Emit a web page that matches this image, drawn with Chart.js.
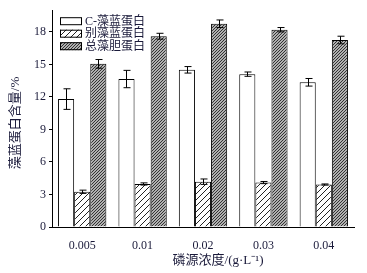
<!DOCTYPE html>
<html>
<head>
<meta charset="utf-8">
<script src="https://cdn.jsdelivr.net/npm/chart.js@4"></script>
<style>
  html, body { margin: 0; padding: 0; background: #fff; }
  #wrap { width: 367px; height: 273px; }
</style>
</head>
<body>
<div id="wrap"><canvas id="chart1" width="367" height="273"></canvas></div>
<script>
// Дані
const categories = ['0.005', '0.01', '0.02', '0.03', '0.04'];
const seriesNames = ['C-藻蓝蛋白', '别藻蓝蛋白', '总藻胆蛋白'];
const cpcValues = [11.8, 13.65, 14.5, 14.1, 13.35];
const cpcErrors = [0.95, 0.8, 0.3, 0.2, 0.35];
const apcValues = [3.25, 3.97, 4.18, 4.1, 3.92];
const apcErrors = [0.15, 0.1, 0.25, 0.1, 0.05];
const totalValues = [15.05, 17.6, 18.75, 18.2, 17.25];
const totalErrors = [0.4, 0.27, 0.35, 0.2, 0.35];
const yTicks = [0, 3, 6, 9, 12, 15, 18];
const xTitle = '磷源浓度/(g·L⁻¹)';
const yTitle = '藻蓝蛋白含量/%';

const FONT = '"Liberation Serif", "Times New Roman", "Noto Sans CJK SC", serif';
const TEXT = '#1a1a3a';

// Штрихування
function makeHatch(size, bg, fg, lw) {
  const c = document.createElement('canvas');
  c.width = size; c.height = size;
  const g = c.getContext('2d');
  g.fillStyle = bg;
  g.fillRect(0, 0, size, size);
  g.strokeStyle = fg;
  g.lineWidth = lw;
  g.beginPath();
  g.moveTo(-1, size + 1); g.lineTo(size + 1, -1);
  g.moveTo(-1, 1); g.lineTo(1, -1);
  g.moveTo(size - 1, size + 1); g.lineTo(size + 1, size - 1);
  g.stroke();
  return c;
}

const ctx = document.getElementById('chart1').getContext('2d');
const whiteFill = '#ffffff';
const lightHatch = ctx.createPattern(makeHatch(6, '#ffffff', '#222', 1), 'repeat');
const darkHatch = ctx.createPattern(makeHatch(3, '#b0b0b0', '#333', 1), 'repeat');
const fills = [whiteFill, lightHatch, darkHatch];
const errorSets = [cpcErrors, apcErrors, totalErrors];

// Планки похибок
const errorBars = {
  id: 'errorBars',
  afterDatasetsDraw(chart) {
    const g = chart.ctx;
    const y = chart.scales.y;
    g.save();
    g.strokeStyle = '#000';
    g.lineWidth = 1;
    chart.data.datasets.forEach((ds, i) => {
      const meta = chart.getDatasetMeta(i);
      meta.data.forEach((bar, j) => {
        const v = ds.data[j], e = errorSets[i][j];
        const x = Math.round(bar.x) + 0.5;
        const top = y.getPixelForValue(v + e);
        const bot = y.getPixelForValue(v - e);
        g.beginPath();
        g.moveTo(x, top); g.lineTo(x, bot);
        g.moveTo(x - 3, top); g.lineTo(x + 4, top);
        g.moveTo(x - 3, bot); g.lineTo(x + 4, bot);
        g.stroke();
      });
    });
    g.restore();
  }
};

// Легенда та підписи осей
const innerLegend = {
  id: 'innerLegend',
  afterDraw(chart) {
    const g = chart.ctx;
    const area = chart.chartArea;
    const left = area.left + 8;
    const top = area.top + 7;
    g.save();
    g.font = '12px ' + FONT;
    g.textBaseline = 'middle';
    seriesNames.forEach((name, i) => {
      const yy = top + i * 12.5;
      g.fillStyle = fills[i];
      g.fillRect(left, yy, 22, 8);
      g.strokeStyle = '#000';
      g.lineWidth = 1;
      g.strokeRect(left + 0.5, yy + 0.5, 21, 7);
      g.fillStyle = TEXT;
      g.fillText(name, left + 25, yy + 4.5);
    });

    // назва осі X
    g.font = '13px ' + FONT;
    g.textAlign = 'center';
    g.fillText(xTitle, 218, 261);

    // назва осі Y
    g.translate(16, 123);
    g.rotate(-Math.PI / 2);
    g.fillText(yTitle, 0, 0);
    g.restore();
  }
};

const data = {
  labels: categories,
  datasets: [
    { label: seriesNames[0], data: cpcValues, backgroundColor: fills[0], borderColor: '#000', borderWidth: 1 },
    { label: seriesNames[1], data: apcValues, backgroundColor: fills[1], borderColor: '#000', borderWidth: 1 },
    { label: seriesNames[2], data: totalValues, backgroundColor: fills[2], borderColor: '#000', borderWidth: 1 }
  ]
};

const config = {
  type: 'bar',
  data: data,
  options: {
    responsive: false,
    animation: false,
    layout: { padding: { left: 0, right: 13, top: 5, bottom: 0 } },
    datasets: { bar: { categoryPercentage: 0.8, barPercentage: 1.0 } },
    plugins: { legend: { display: false }, tooltip: { enabled: false } },
    scales: {
      x: {
        grid: { display: false },
        border: { display: true, color: '#000', width: 1 },
        ticks: { color: TEXT, font: { family: FONT, size: 12 }, padding: 4 },
        afterFit(scale) { scale.height = 46; }
      },
      y: {
        min: 0,
        max: 20,
        afterBuildTicks(scale) { scale.ticks = yTicks.map(v => ({ value: v })); },
        grid: { display: true, drawOnChartArea: false, drawTicks: true, tickLength: 3, color: '#000' },
        border: { display: true, color: '#000', width: 1 },
        ticks: { color: TEXT, font: { family: FONT, size: 12 }, padding: 3 },
        afterFit(scale) { scale.width = 52; }
      }
    }
  },
  plugins: [errorBars, innerLegend]
};

new Chart(ctx, config);
</script>
</body>
</html>
